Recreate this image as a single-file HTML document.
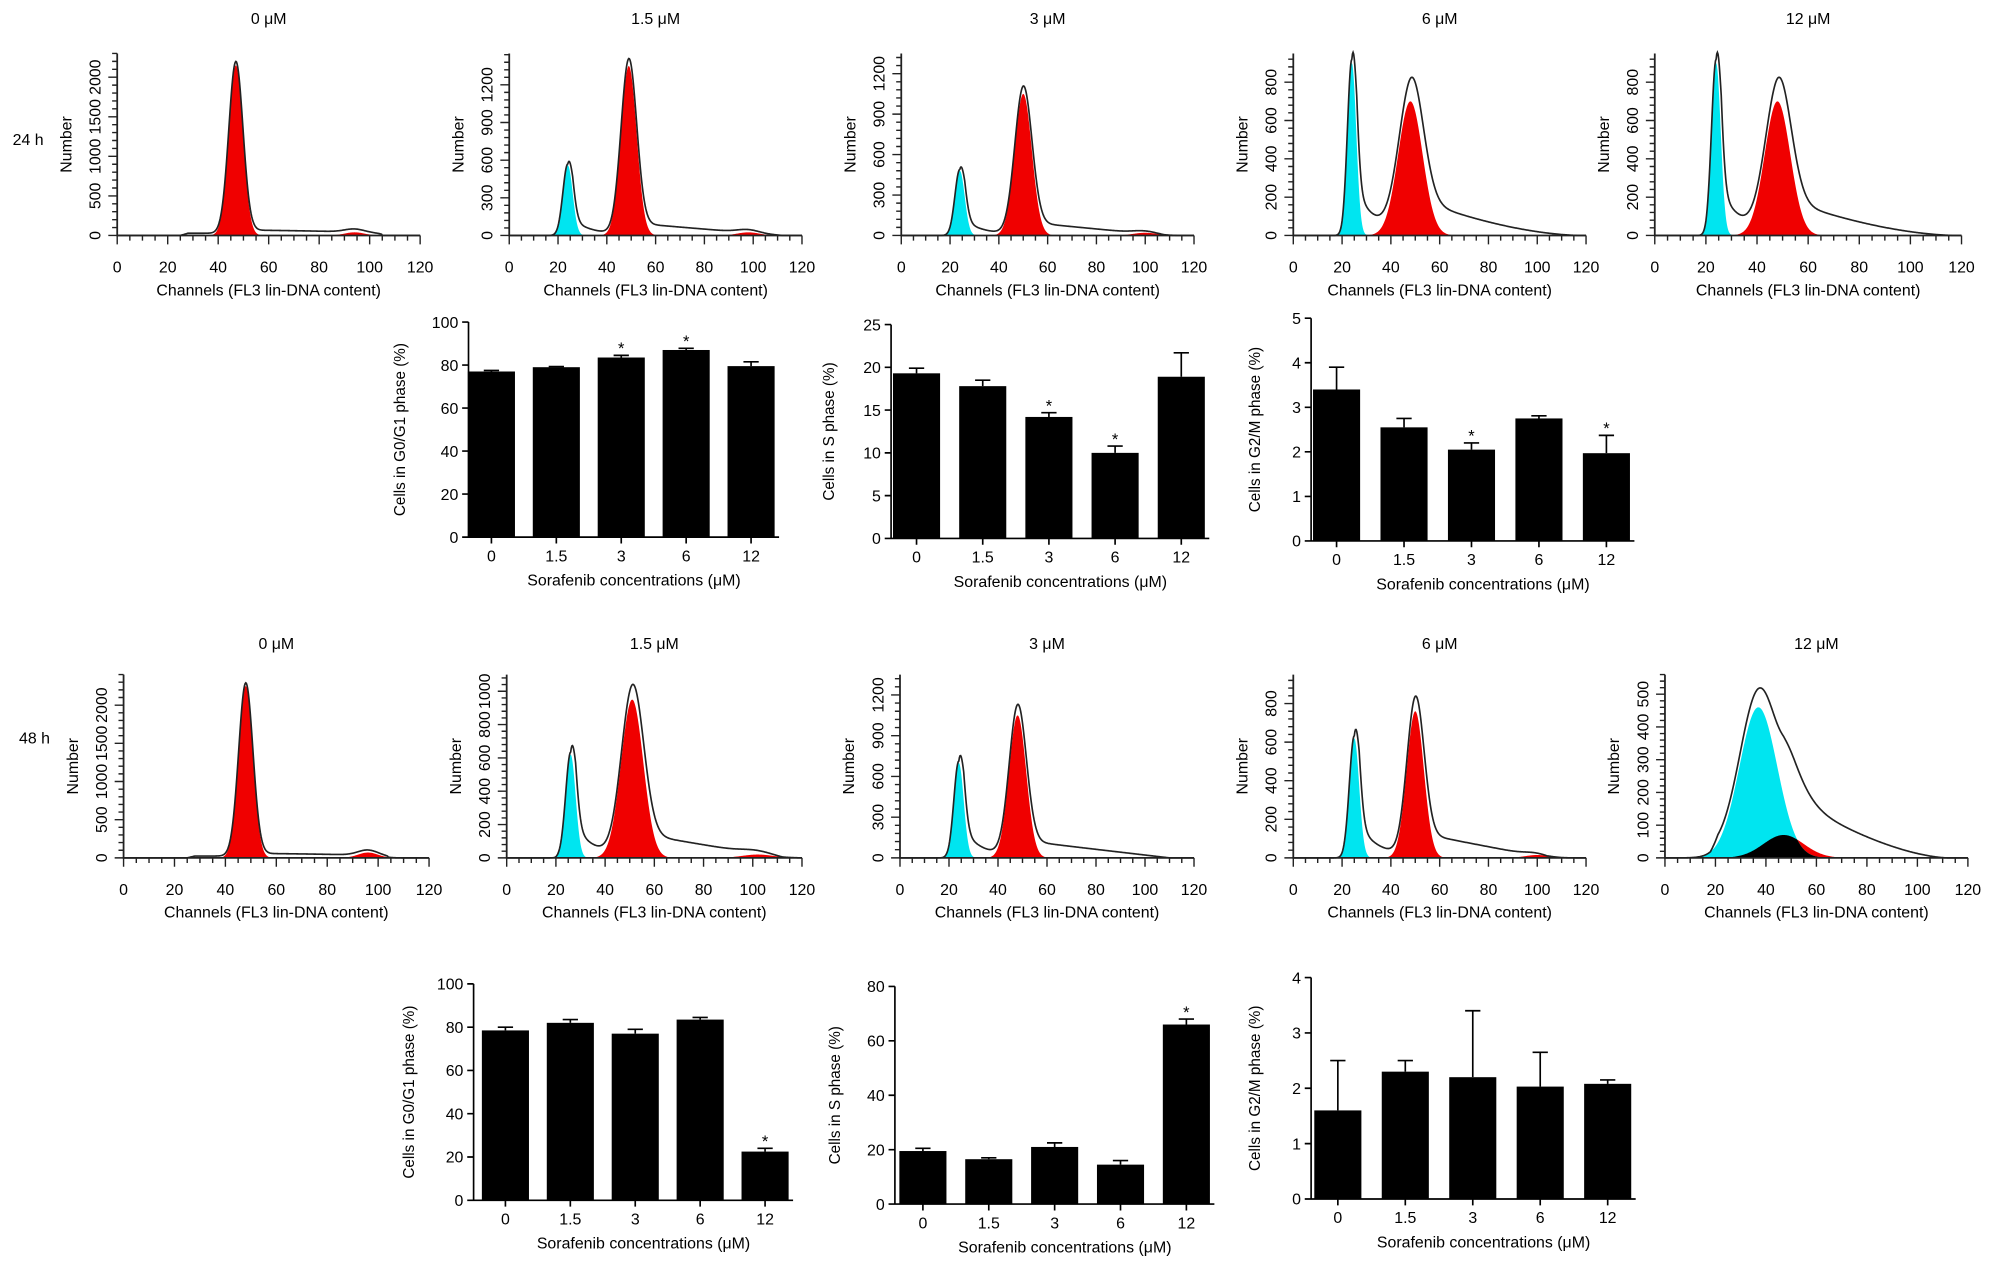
<!DOCTYPE html>
<html><head><meta charset="utf-8"><style>
html,body{margin:0;padding:0;background:#fff;}
svg{display:block;font-family:"Liberation Sans",Arial,sans-serif;}
</style></head><body>
<svg id="fig" width="1996" height="1269" viewBox="0 0 1568 997" xmlns="http://www.w3.org/2000/svg">
<text x="22" y="114" font-size="12.5" text-anchor="middle">24 h</text>
<text x="27" y="584" font-size="12.5" text-anchor="middle">48 h</text>
</svg>
<script>
// ---------- histogram data ----------
const histTitles = ['0 μM','1.5 μM','3 μM','6 μM','12 μM','0 μM','1.5 μM','3 μM','6 μM','12 μM'];
const yTopVal   = [2300,1450,1350,950,950, 2400,1100,1350,950,560];
const yStep     = [500,300,300,200,200, 500,200,300,200,100];
const yTickMax  = [2000,1200,1200,800,800, 2000,1000,1200,800,500];
const g1Center  = [47,49,50,48,48, 48,51,48,50,47];
const g1Sd      = [2.8,3.2,3.5,5,5, 2.8,4.5,3.5,3.5,8];
const g1Height  = [2150,1350,1050,700,700, 2250,950,1050,760,70];
const cyCenter  = [0,24,24,24,24, 0,26,24,25,37];
const cySd      = [1,2,2,1.8,1.8, 1,2,2,2,7.5];
const cyHeight  = [0,560,480,900,900, 0,620,700,620,460];
const tailHeight= [0,160,140,300,300, 0,240,260,220,0];
const sLevel    = [70,100,100,200,200, 60,150,130,130,200];
const sLeft     = [0.4,0.1,0.1,0.1,0.1, 0.4,0.1,0.1,0.1,0.12];
const sStart    = [25,20,20,20,20, 25,20,20,20,18];
const sEnd      = [105,112,108,118,118, 104,112,110,104,112];
const sPow      = [0.3,1,1,1.7,1.7, 0.3,1,1,1,1.6];
const g2Height  = [40,25,20,0,0, 70,20,0,15,0];
const xTickLabels = ['0','20','40','60','80','100','120'];
// ---------- histogram layout ----------
const hx0 = [92,400,708,1016,1300, 97,398,707,1016,1308];
const hx1 = [330,630,938,1246,1541, 337,630,938,1246,1546];
const hBase = [185,674];
const hTop = [42,530];

// ---------- bar data ----------
const barCats = ['0','1.5','3','6','12'];
const barVals = [[77,79,83.5,87,79.5],[19.3,17.8,14.2,10,18.9],[3.4,2.55,2.05,2.75,1.97],[78.5,82,77,83.5,22.5],[19.5,16.5,21,14.5,66],[1.6,2.3,2.2,2.03,2.08]];
const barErr  = [[0.5,0.3,1,0.8,2],[0.6,0.7,0.5,0.8,2.8],[0.5,0.2,0.15,0.06,0.4],[1.5,1.5,2,1,1.5],[1,0.5,1.5,1.5,2],[0.9,0.2,1.2,0.62,0.07]];
const barStar = [[0,0,1,1,0],[0,0,1,1,0],[0,0,1,0,1],[0,0,0,0,1],[0,0,0,0,1],[0,0,0,0,0]];
const barYMax = [100,25,5,100,80,4];
const barYStep= [20,5,1,20,20,1];
const barYTitles = ['Cells in G0/G1 phase (%)','Cells in S phase (%)','Cells in G2/M phase (%)','Cells in G0/G1 phase (%)','Cells in S phase (%)','Cells in G2/M phase (%)'];
// ---------- bar layout ----------
const bAxisX = [368,700,1030,372,703,1030];
const bBase  = [422,423,425,943,946,942];
const bTop   = [253,255,250,773,775,768];
const bOff   = [18,20,20,25,22,21];
const bSpace = [51,52,53,51,51.75,53];
const bTitleX= [318,655,990,325,660,990];

const NS='http://www.w3.org/2000/svg';
const svg=document.getElementById('fig');
function mk(tag,attrs,parent){const e=document.createElementNS(NS,tag);for(const k in attrs)e.setAttribute(k,attrs[k]);(parent||svg).appendChild(e);return e;}
function gauss(x,c,s,h){return h*Math.exp(-((x-c)*(x-c))/(2*s*s));}
function sig(z){return 1/(1+Math.exp(-z));}

for(let p=0;p<10;p++){
  const row=p<5?0:1;
  const g=mk('g',{});
  
  
  const x0=hx0[p],x1=hx1[p],base=hBase[row],top=hTop[row];
  const X=ch=>x0+ch/120*(x1-x0);
  const Y=v=>base-v/yTopVal[p]*(base-top);
  const c=g1Center[p];
  function sPart(x){
    if(x<sStart[p])return 0;
    const edge=Math.min(1,(x-sStart[p])/3);
    let d=1;
    if(x>c){d=Math.max(0,(sEnd[p]-x)/(sEnd[p]-c));d=Math.pow(d,sPow[p]);}
    return sLevel[p]*edge*(sLeft[p]+(1-sLeft[p])*sig((x-c)/2))*d;
  }
  function cyan(x){return cyHeight[p]?gauss(x,cyCenter[p],cySd[p],cyHeight[p]):0;}
  function tail(x){return (tailHeight[p]&&x>cyCenter[p])?tailHeight[p]*Math.exp(-(x-cyCenter[p])/7)*Math.min(1,(x-cyCenter[p])/2):0;}
  function red(x){return gauss(x,c,g1Sd[p],g1Height[p])+gauss(x,2*c,g1Sd[p]*1.4,g2Height[p]);}
  const N=480;
  let redD='M'+X(0)+','+base,cyD='M'+X(0)+','+base,outD='',blackD='M'+X(0)+','+base;
  for(let i=0;i<=N;i++){
    const x=i/N*120;
    const r=red(x),cy=cyan(x),o=r+cy+tail(x)+sPart(x);
    redD+=' L'+X(x).toFixed(2)+','+Y(r).toFixed(2);
    cyD+=' L'+X(x).toFixed(2)+','+Y(cy).toFixed(2);
    blackD+=' L'+X(x).toFixed(2)+','+Y(Math.min(r,cy)).toFixed(2);
    outD+=(i?' L':'M')+X(x).toFixed(2)+','+Math.max(top-8,Y(o)).toFixed(2);
  }
  redD+=' L'+X(120)+','+base+' Z';cyD+=' L'+X(120)+','+base+' Z';
  blackD+=' L'+X(120)+','+base+' Z';
  const rf=mk('path',{d:redD,fill:'#f00000'},g);
  
  
  if(cyHeight[p]){
    const cf=mk('path',{d:cyD,fill:'#00e5f0'},g);
    
    
  }
  if(p===9){
    const bf=mk('path',{d:blackD,fill:'#000'},g);
    
    
  }
  const ol=mk('path',{d:outD,fill:'none',stroke:'#222',"stroke-width":1.3},g);
  
  
  const ax=mk('path',{d:'M'+x0+','+(top)+' V'+base+' H'+x1,fill:'none',stroke:'#222',"stroke-width":1.4},g);
  
  
  let tk='';
  for(let ch=0;ch<=120;ch+=5){const len=ch%20===0?7:4;tk+='M'+X(ch).toFixed(2)+','+base+' v'+len+' ';}
  const ms=yStep[p]/5;
  for(let v=0;v<=yTopVal[p];v+=ms){const len=(Math.round(v/ms)%5===0)?7:4;tk+='M'+x0+','+Y(v).toFixed(2)+' h-'+len+' ';}
  const tkp=mk('path',{d:tk,stroke:'#222',"stroke-width":1.1,fill:'none'},g);
  
  
  for(let i=0;i<xTickLabels.length;i++){
    const t=mk('text',{x:X(i*20),y:base+29,"font-size":12.5,"text-anchor":"middle"},g);
    
    
    t.textContent=xTickLabels[i];
  }
  for(let v=0;v<=yTickMax[p];v+=yStep[p]){
    const t=mk('text',{x:0,y:0,"font-size":12.5,"text-anchor":"middle",transform:'translate('+(x0-13)+','+Y(v).toFixed(2)+') rotate(-90)'},g);
    
    
    t.textContent=String(v);
  }
  const yt=mk('text',{x:0,y:0,"font-size":12.5,"text-anchor":"middle",transform:'translate('+(x0-36)+','+((top+base)/2)+') rotate(-90)'},g);
  
  
  yt.textContent='Number';
  const xt=mk('text',{x:(x0+x1)/2,y:base+47,"font-size":12.5,"text-anchor":"middle"},g);
  
  
  xt.textContent='Channels (FL3 lin-DNA content)';
  const tt=mk('text',{x:(x0+x1)/2,y:row?510:19,"font-size":12.5,"text-anchor":"middle"},g);
  
  
  tt.textContent=histTitles[p];
}

for(let b=0;b<6;b++){
  const g=mk('g',{});
  
  
  const ax0=bAxisX[b],base=bBase[b],top=bTop[b];
  const Y=v=>base-v/barYMax[b]*(base-top);
  const cx=i=>ax0+bOff[b]+i*bSpace[b];
  const right=cx(4)+22;
  const bw=37;
  for(let i=0;i<5;i++){
    const v=barVals[b][i],e=barErr[b][i];
    const r=mk('rect',{x:cx(i)-bw/2,y:Y(v),width:bw,height:base-Y(v),fill:'#000'},g);
    
    
    const eb=mk('path',{d:'M'+cx(i)+','+Y(v)+' V'+Y(v+e)+' M'+(cx(i)-6)+','+Y(v+e)+' h12',stroke:'#000',"stroke-width":1.3,fill:'none'},g);
    
    
    if(barStar[b][i]){
      const s=mk('text',{x:cx(i),y:Y(v+e)-1,"font-size":13,"text-anchor":"middle"},g);
      
      
      s.textContent='*';
    }
    const t=mk('text',{x:cx(i),y:base+19,"font-size":12.5,"text-anchor":"middle"},g);
    
    
    t.textContent=barCats[i];
  }
  let d='M'+ax0+','+top+' V'+base+' H'+right;
  for(let v=0;v<=barYMax[b]+1e-9;v+=barYStep[b])d+=' M'+ax0+','+Y(v).toFixed(2)+' h-5';
  for(let i=0;i<5;i++)d+=' M'+cx(i)+','+base+' v5';
  const ax=mk('path',{d:d,stroke:'#000',"stroke-width":1.3,fill:'none'},g);
  
  
  for(let v=0;v<=barYMax[b]+1e-9;v+=barYStep[b]){
    const t=mk('text',{x:ax0-8,y:Y(v)+4.5,"font-size":12.5,"text-anchor":"end"},g);
    
    
    t.textContent=String(Math.round(v*100)/100);
  }
  const yt=mk('text',{x:0,y:0,"font-size":12,"text-anchor":"middle",transform:'translate('+bTitleX[b]+','+((top+base)/2)+') rotate(-90)'},g);
  
  
  yt.textContent=barYTitles[b];
  const xt=mk('text',{x:(ax0+right)/2+8,y:base+38,"font-size":12.5,"text-anchor":"middle"},g);
  
  
  xt.textContent='Sorafenib concentrations (μM)';
}
</script>
</body></html>
